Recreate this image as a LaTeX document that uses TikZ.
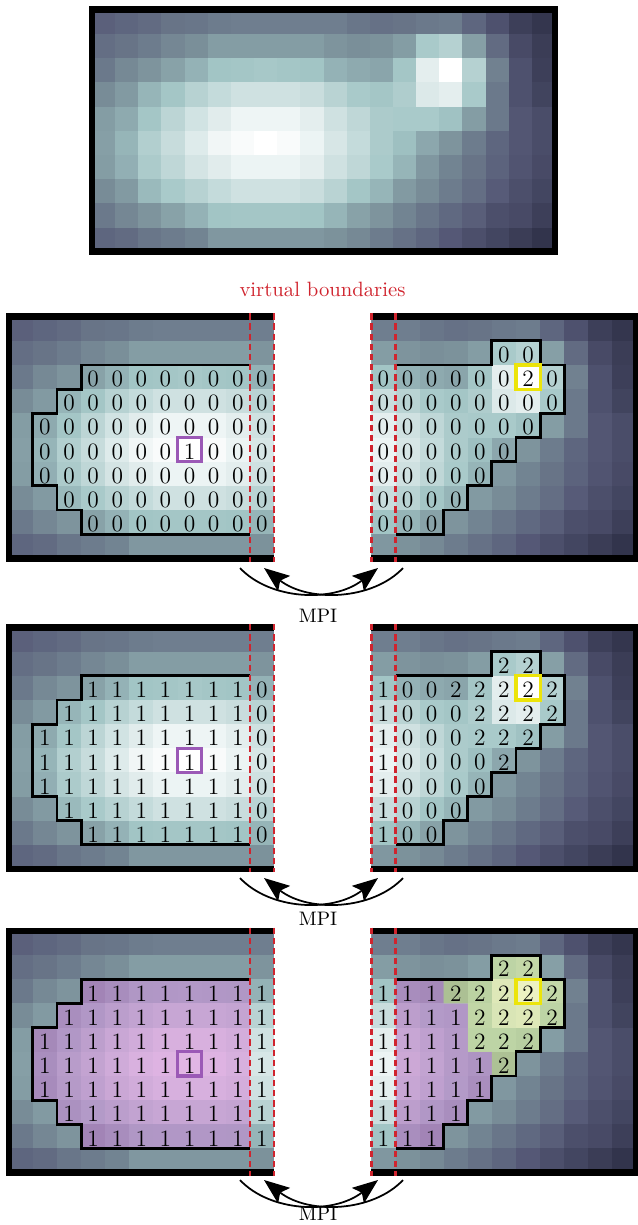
\documentclass[tikz,border=0pt]{standalone}
\usepackage{tikz}
\usetikzlibrary{arrows.meta}

% colour map of the image (dark -> teal -> white)
\definecolor{cmA}{RGB}{30,32,52}
\definecolor{cmB}{RGB}{85,88,118}
\definecolor{cmC}{RGB}{122,143,153}
\definecolor{cmD}{RGB}{162,197,197}
\definecolor{cmE}{RGB}{255,255,255}
\definecolor{vbred}{RGB}{208,36,46}
\definecolor{seedpurple}{RGB}{155,89,182}
\definecolor{seedyellow}{RGB}{236,228,10}
\definecolor{labelone}{RGB}{192,100,198}
\definecolor{labeltwo}{RGB}{215,225,120}

% intensity of every pixel, row by row (0 = dark, 100 = white)
\newcommand\imgdata{%
{28,30,32,35,36,38,39,39,39,39,39,36,34,35,37,38,30,22,14,10},%
{33,35,38,42,45,50,50,50,50,50,47,45,46,50,68,72,51,32,19,13},%
{37,43,47,52,58,65,66,67,66,65,58,55,53,66,90,100,72,40,22,14},%
{44,49,59,66,73,78,82,82,82,80,74,68,66,70,87,90,68,37,22,16},%
{50,55,66,75,83,89,94,94,94,90,82,76,69,68,68,64,50,37,24,20},%
{51,59,71,79,88,95,98,100,98,93,85,78,69,63,54,47,38,30,24,20},%
{50,57,69,76,84,89,93,93,93,90,82,76,68,59,48,41,35,29,23,19},%
{44,49,61,68,73,78,82,82,82,80,74,66,59,49,44,38,33,26,21,17},%
{37,42,47,52,58,65,66,66,66,65,59,52,47,41,36,31,27,21,19,14},%
{30,32,36,38,41,48,48,48,48,48,46,43,38,34,30,25,21,17,13,9}}

\newcommand\setpix[1]{%
  \ifnum#1<25 \pgfmathtruncatemacro\pixp{#1*4}\colorlet{pixcol}{cmB!\pixp!cmA}%
  \else\ifnum#1<45 \pgfmathtruncatemacro\pixp{(#1-25)*5}\colorlet{pixcol}{cmC!\pixp!cmB}%
  \else\ifnum#1<65 \pgfmathtruncatemacro\pixp{(#1-45)*5}\colorlet{pixcol}{cmD!\pixp!cmC}%
  \else\pgfmathtruncatemacro\pixp{(#1-65)*100/35}\colorlet{pixcol}{cmE!\pixp!cmD}\fi\fi\fi}

\newcommand\drawimage{%
  \foreach \rowvals [count=\ri from 0] in \imgdata {
    \foreach \vv [count=\ci from 0] in \rowvals {
      \setpix{\vv}
      \fill[pixcol] (\ci,\ri) rectangle ++(1.02,1.02);
    }
  }}

% one row of labels: row, first column, values
\newcommand\digits[3]{%
  \foreach \dg [count=\ki from #2] in {#3} {
    \node[digit] (d#1-\ki) at (\ki+0.5,#1+0.58) {\dg};
  }}

\newcommand\leftregion{(10,2) -- (3,2) -- (3,3) -- (2,3) -- (2,4) -- (1,4) -- (1,7) -- (2,7) -- (2,8) -- (3,8) -- (3,9) -- (10,9)}
\newcommand\rightregion{(10,2) -- (14,2) -- (14,1) -- (16,1) -- (16,2) -- (17,2) -- (17,4) -- (16,4) -- (16,5) -- (15,5) -- (15,6) -- (14,6) -- (14,7) -- (13,7) -- (13,8) -- (12,8) -- (12,9) -- (10,9)}

\newcommand\leftpanel[2]{%
  \begin{scope}[shift={(8.8,#1)}, xscale=24.1, yscale=24.16]
    \begin{scope}
      \clip (0,0) rectangle (11,10);
      \drawimage
    \end{scope}
    #2
    \draw[regionline] \leftregion;
    \draw[seedone] (7,5) rectangle (8,6);
    \draw[panelframe] (11,0) -- (0,0) -- (0,10) -- (11,10);
    \draw[vbound] (10,-0.14) -- (10,10.14) (11,-0.14) -- (11,10.14);
  \end{scope}}

\newcommand\rightpanel[2]{%
  \begin{scope}[shift={(154.5,#1)}, xscale=24.1, yscale=24.16]
    \begin{scope}
      \clip (9,0) rectangle (20,10);
      \drawimage
    \end{scope}
    #2
    \draw[regionline] \rightregion;
    \draw[seedtwo] (15,2) rectangle (16,3);
    \draw[panelframe] (9,0) -- (20,0) -- (20,10) -- (9,10);
    \draw[vbound] (9,-0.14) -- (9,10.14) (10,-0.14) -- (10,10.14);
  \end{scope}}

\newcommand\mpiswap[3]{%
  \coordinate (#1-ls) at (240,#2);
  \coordinate (#1-lt) at (264,#2);
  \coordinate (#1-rt) at (378,#2);
  \coordinate (#1-rs) at (403,#2);
  \draw[mpiarrow] (#1-ls) .. controls +(30,32) and +(-45,35) .. (#1-rt);
  \draw[mpiarrow] (#1-rs) .. controls +(-30,32) and +(45,35) .. (#1-lt);
  \node[mpilabel] (#1) at (318,#3) {MPI};}

\begin{document}
\begin{tikzpicture}[x=0.512pt, y=-0.512pt,
    panelframe/.style={line width=3.3pt},
    regionline/.style={line width=1.5pt},
    vbound/.style={vbred, line width=1.2pt, dash pattern=on 3.2pt off 2pt},
    digit/.style={font=\large, inner sep=0pt},
    seedone/.style={seedpurple, line width=1.6pt},
    seedtwo/.style={seedyellow, line width=1.6pt},
    onefill/.style={fill=labelone, fill opacity=0.47},
    twofill/.style={fill=labeltwo, fill opacity=0.45},
    mpiarrow/.style={-{Stealth[length=13pt, width=10pt, inset=2.5pt]}, line width=0.9pt},
    mpilabel/.style={inner sep=0pt},
    vblabel/.style={text=vbred, inner sep=0pt, font=\fontsize{10.6}{12}\selectfont}]
  \useasboundingbox (0,0) rectangle (638,1225);

  % full image
  \begin{scope}[shift={(92,9.7)}, xscale=23.15, yscale=24.2]
    \drawimage
    \draw[panelframe] (0,0) rectangle (20,10);
  \end{scope}

  \node[vblabel] (vb) at (322.5,289.5) {virtual boundaries};

  % step 1: initial labels
  \leftpanel{316.7}{
    \digits{2}{3}{0,0,0,0,0,0,0,0}
    \digits{3}{2}{0,0,0,0,0,0,0,0,0}
    \digits{4}{1}{0,0,0,0,0,0,0,0,0,0}
    \digits{5}{1}{0,0,0,0,0,0,1,0,0,0}
    \digits{6}{1}{0,0,0,0,0,0,0,0,0,0}
    \digits{7}{2}{0,0,0,0,0,0,0,0,0}
    \digits{8}{3}{0,0,0,0,0,0,0,0}
  }
  \rightpanel{316.7}{
    \digits{1}{14}{0,0}
    \digits{2}{9}{0,0,0,0,0,0,2,0}
    \digits{3}{9}{0,0,0,0,0,0,0,0}
    \digits{4}{9}{0,0,0,0,0,0,0}
    \digits{5}{9}{0,0,0,0,0,0}
    \digits{6}{9}{0,0,0,0,0}
    \digits{7}{9}{0,0,0,0}
    \digits{8}{9}{0,0,0}
  }
  \mpiswap{mpi1}{568}{616}

  % step 2: local growing
  \leftpanel{627.5}{
    \digits{2}{3}{1,1,1,1,1,1,1,0}
    \digits{3}{2}{1,1,1,1,1,1,1,1,0}
    \digits{4}{1}{1,1,1,1,1,1,1,1,1,0}
    \digits{5}{1}{1,1,1,1,1,1,1,1,1,0}
    \digits{6}{1}{1,1,1,1,1,1,1,1,1,0}
    \digits{7}{2}{1,1,1,1,1,1,1,1,0}
    \digits{8}{3}{1,1,1,1,1,1,1,0}
  }
  \rightpanel{627.5}{
    \digits{1}{14}{2,2}
    \digits{2}{9}{1,0,0,2,2,2,2,2}
    \digits{3}{9}{1,0,0,0,2,2,2,2}
    \digits{4}{9}{1,0,0,0,2,2,2}
    \digits{5}{9}{1,0,0,0,0,2}
    \digits{6}{9}{1,0,0,0,0}
    \digits{7}{9}{1,0,0,0}
    \digits{8}{9}{1,0,0}
  }
  \mpiswap{mpi2}{878}{919}

  % step 3: after exchange
  \leftpanel{931}{
    \fill[onefill] \leftregion -- cycle;
    \digits{2}{3}{1,1,1,1,1,1,1,1}
    \digits{3}{2}{1,1,1,1,1,1,1,1,1}
    \digits{4}{1}{1,1,1,1,1,1,1,1,1,1}
    \digits{5}{1}{1,1,1,1,1,1,1,1,1,1}
    \digits{6}{1}{1,1,1,1,1,1,1,1,1,1}
    \digits{7}{2}{1,1,1,1,1,1,1,1,1}
    \digits{8}{3}{1,1,1,1,1,1,1,1}
  }
  \rightpanel{931}{
    \fill[onefill] (10,2) -- (12,2) -- (12,3) -- (13,3) -- (13,5) -- (14,5) -- (14,7) -- (13,7) -- (13,8) -- (12,8) -- (12,9) -- (10,9) -- cycle;
    \fill[twofill] (14,1) -- (16,1) -- (16,2) -- (17,2) -- (17,4) -- (16,4) -- (16,5) -- (15,5) -- (15,6) -- (14,6) -- (14,5) -- (13,5) -- (13,3) -- (12,3) -- (12,2) -- (14,2) -- cycle;
    \digits{1}{14}{2,2}
    \digits{2}{9}{1,1,1,2,2,2,2,2}
    \digits{3}{9}{1,1,1,1,2,2,2,2}
    \digits{4}{9}{1,1,1,1,2,2,2}
    \digits{5}{9}{1,1,1,1,1,2}
    \digits{6}{9}{1,1,1,1,1}
    \digits{7}{9}{1,1,1,1}
    \digits{8}{9}{1,1,1}
  }
  \mpiswap{mpi3}{1180}{1214}
\end{tikzpicture}
\end{document}
